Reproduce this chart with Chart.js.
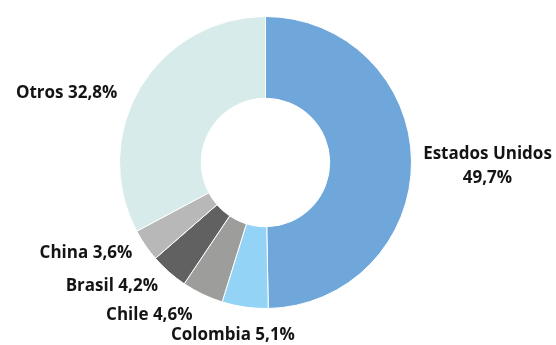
<!DOCTYPE html>
<html lang="es">
<head>
    <meta charset="UTF-8">
    <title>Destinos de exportación</title>
    <script src="https://cdn.jsdelivr.net/npm/chart.js"></script>
    <style>
        body {
            margin: 0;
            background: #fff;
        }
        canvas {
            display: block;
        }
    </style>
</head>
<body>
    <canvas id="destinosChart" width="556" height="345"></canvas>
    <script>
        const paises = ['Estados Unidos', 'Colombia', 'Chile', 'Brasil', 'China', 'Otros'];
        const participacion = [49.7, 5.1, 4.6, 4.2, 3.6, 32.8];
        const colores = ['#6fa7db', '#93d3f6', '#9d9d9c', '#616161', '#b8b8b8', '#d6ebea'];

        // ubicación de cada etiqueta respecto al borde exterior de su sector
        const posEtiquetas = [
            { dx: 76, dy: -7, align: 'center', dosLineas: true },
            { dx: -12, dy: 28, align: 'center' },
            { dx: -10, dy: 21, align: 'right' },
            { dx: -11, dy: 14, align: 'right' },
            { dx: -13, dy: 8, align: 'right' },
            { dx: -23, dy: 6, align: 'right' }
        ];

        function formatoPct(v) {
            return v.toFixed(1).replace('.', ',') + '%';
        }

        const etiquetasPlugin = {
            id: 'etiquetasExternas',
            afterDatasetsDraw(chart) {
                const ctx = chart.ctx;
                const meta = chart.getDatasetMeta(0);
                ctx.save();
                ctx.font = 'bold 17px "Open Sans"';
                ctx.fillStyle = '#141414';
                ctx.textBaseline = 'middle';
                meta.data.forEach((arc, i) => {
                    const p = arc.getProps(['x', 'y', 'startAngle', 'endAngle', 'outerRadius'], true);
                    const medio = (p.startAngle + p.endAngle) / 2;
                    const ax = p.x + Math.cos(medio) * p.outerRadius;
                    const ay = p.y + Math.sin(medio) * p.outerRadius;
                    const pos = posEtiquetas[i];
                    const texto = chart.data.labels[i];
                    const valor = formatoPct(chart.data.datasets[0].data[i]);
                    ctx.textAlign = pos.align;
                    if (pos.dosLineas) {
                        ctx.fillText(texto, ax + pos.dx, ay + pos.dy);
                        ctx.fillText(valor, ax + pos.dx, ay + pos.dy + 24);
                    } else {
                        ctx.fillText(texto + ' ' + valor, ax + pos.dx, ay + pos.dy);
                    }
                });
                ctx.restore();
            }
        };

        const ctx = document.getElementById('destinosChart').getContext('2d');
        new Chart(ctx, {
            type: 'doughnut',
            data: {
                labels: paises,
                datasets: [{
                    data: participacion,
                    backgroundColor: colores,
                    borderColor: '#ffffff',
                    borderWidth: 1
                }]
            },
            options: {
                responsive: false,
                animation: false,
                cutout: '44%',
                layout: {
                    padding: { top: 16, bottom: 36, left: 0, right: 25 }
                },
                plugins: {
                    legend: { display: false },
                    tooltip: { enabled: false }
                }
            },
            plugins: [etiquetasPlugin]
        });
    </script>
</body>
</html>
